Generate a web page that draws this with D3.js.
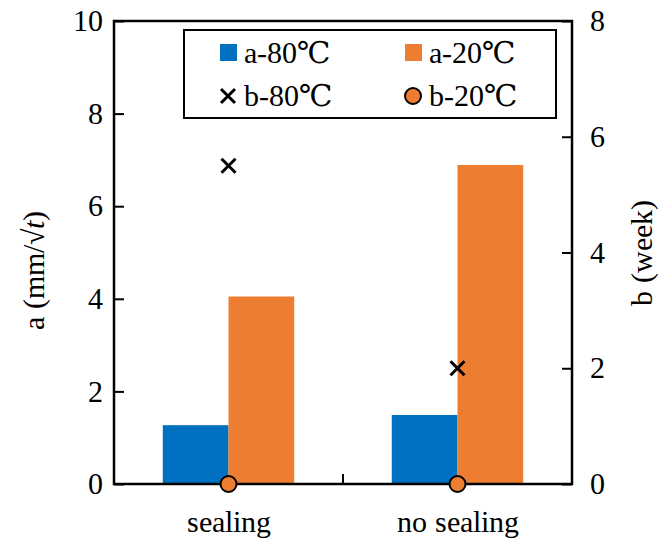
<!DOCTYPE html>
<html lang="en">
<head>
<meta charset="utf-8">
<script src="https://cdn.jsdelivr.net/npm/d3@7"></script>
<style>
  @font-face {
    font-family: "ChartSerif";
    font-style: normal;
    font-weight: 400;
    src: local("Liberation Serif"), local("LiberationSerif"), local("Liberation Serif Regular"), local("Times New Roman");
  }
  @font-face {
    font-family: "ChartSerif";
    font-style: italic;
    font-weight: 400;
    src: local("Liberation Serif Italic"), local("LiberationSerif-Italic"), local("Times New Roman Italic");
  }
  body { margin: 0; background: #fff; }
</style>
</head>
<body>
<svg id="chart" width="660" height="541"></svg>
<script>
// Categories and series
const categories = ["sealing", "no sealing"];
const a80 = [1.27, 1.49];   // a-80°C (left axis)
const a20 = [4.05, 6.89];   // a-20°C (left axis)
const b80 = [5.5, 2.0];     // b-80°C (right axis)
const b20 = [0, 0];         // b-20°C (right axis)
const leftTicks = [0, 2, 4, 6, 8, 10];
const rightTicks = [0, 2, 4, 6, 8];
const legendLabels = ["a-80\u2103", "a-20\u2103", "b-80\u2103", "b-20\u2103"];

const FONT = "ChartSerif, \"Liberation Serif\", \"Times New Roman\", \"DejaVu Serif\"";
const FS = "30px";
const blue = "#0070c0", orange = "#ed7d31";

function serif(sel) {
  return sel.style("font-family", FONT).style("font-size", FS);
}

function draw() {
  const svg = d3.select("#chart").style("font-family", FONT);
  svg.selectAll("*").remove();
  const m = { left: 114, right: 572, top: 21, bottom: 484 };

  const x = d3.scaleBand().domain(categories).range([m.left, m.right]);
  const yL = d3.scaleLinear().domain([0, 10]).range([m.bottom, m.top]);
  const yR = d3.scaleLinear().domain([0, 8]).range([m.bottom, m.top]);
  const barW = x.bandwidth() * 0.287;

  // Bars
  const g = svg.append("g");
  g.selectAll(".b80").data(categories).join("rect")
    .attr("x", d => x(d) + x.bandwidth() / 2 - barW)
    .attr("width", barW)
    .attr("y", (d, i) => yL(a80[i]))
    .attr("height", (d, i) => yL(0) - yL(a80[i]))
    .attr("fill", blue);
  g.selectAll(".b20").data(categories).join("rect")
    .attr("x", d => x(d) + x.bandwidth() / 2)
    .attr("width", barW)
    .attr("y", (d, i) => yL(a20[i]))
    .attr("height", (d, i) => yL(0) - yL(a20[i]))
    .attr("fill", orange);

  // Axes with inward ticks
  const axL = d3.axisLeft(yL).tickValues(leftTicks).tickSize(-10).tickPadding(11);
  const axR = d3.axisRight(yR).tickValues(rightTicks).tickSize(-10).tickPadding(18);
  const gL = svg.append("g").attr("transform", `translate(${m.left},0)`).call(axL);
  const gR = svg.append("g").attr("transform", `translate(${m.right},0)`).call(axR);
  [gL, gR].forEach(a => {
    a.attr("font-family", null).attr("font-size", null);
    a.select(".domain").remove();
    a.selectAll("line").attr("stroke", "#000").attr("stroke-width", 2);
    serif(a.selectAll("text")).attr("fill", "#000");
  });

  // Bottom axis: tick between categories, labels centred under each group
  svg.append("line")
    .attr("x1", x("no sealing")).attr("x2", x("no sealing"))
    .attr("y1", m.bottom).attr("y2", m.bottom - 10)
    .attr("stroke", "#000").attr("stroke-width", 2);
  serif(svg.selectAll(".cat").data(categories).join("text"))
    .attr("x", d => x(d) + x.bandwidth() / 2)
    .attr("y", 532)
    .attr("text-anchor", "middle")
    .text(d => d);

  // Plot border
  svg.append("rect")
    .attr("x", m.left).attr("y", m.top)
    .attr("width", m.right - m.left).attr("height", m.bottom - m.top)
    .attr("fill", "none").attr("stroke", "#000").attr("stroke-width", 2.5);

  // Markers on the right axis
  function cross(sel, cx, cy, s) {
    sel.append("path")
      .attr("d", `M${cx - s},${cy - s}L${cx + s},${cy + s}M${cx - s},${cy + s}L${cx + s},${cy - s}`)
      .attr("stroke", "#000").attr("stroke-width", 3).attr("fill", "none");
  }
  categories.forEach((c, i) => {
    cross(svg, x(c) + x.bandwidth() / 2, yR(b80[i]), 7);
  });
  svg.selectAll(".dot").data(categories).join("circle")
    .attr("cx", d => x(d) + x.bandwidth() / 2)
    .attr("cy", (d, i) => yR(b20[i]))
    .attr("r", 8)
    .attr("fill", orange).attr("stroke", "#000").attr("stroke-width", 2);

  // Axis titles
  const tL = serif(svg.append("text"))
    .attr("transform", `translate(44,${(m.top + m.bottom) / 2 + 18}) rotate(-90)`)
    .attr("text-anchor", "middle");
  tL.append("tspan").text("a (mm/\u221A");
  tL.append("tspan").style("font-style", "italic").text("t");
  tL.append("tspan").text(")");

  serif(svg.append("text"))
    .attr("transform", `translate(652,${(m.top + m.bottom) / 2}) rotate(-90)`)
    .attr("text-anchor", "middle")
    .text("b (week)");

  // Legend
  const lg = svg.append("g");
  lg.append("rect").attr("x", 184).attr("y", 30).attr("width", 372).attr("height", 88)
    .attr("fill", "#fff").attr("stroke", "#000").attr("stroke-width", 2);
  const legendItems = [
    { kind: "sq", color: blue, x: 220, y: 53 },
    { kind: "sq", color: orange, x: 405, y: 53 },
    { kind: "x", color: "#000", x: 220, y: 96 },
    { kind: "o", color: orange, x: 405, y: 96 }
  ];
  legendItems.forEach((it, i) => {
    if (it.kind === "sq") {
      lg.append("rect").attr("x", it.x).attr("y", it.y - 9).attr("width", 17).attr("height", 17).attr("fill", it.color);
    } else if (it.kind === "x") {
      cross(lg, it.x + 8, it.y, 7);
    } else {
      lg.append("circle").attr("cx", it.x + 8).attr("cy", it.y).attr("r", 8)
        .attr("fill", it.color).attr("stroke", "#000").attr("stroke-width", 2);
    }
    serif(lg.append("text")).attr("x", it.x + 24).attr("y", it.y + 10).text(legendLabels[i]);
  });
}

// Draw now, and again once the serif face has loaded
draw();
if (document.fonts && document.fonts.load) {
  Promise.all([
    document.fonts.load(`${FS} ChartSerif`, "sealing no a b week mm t 0123456789"),
    document.fonts.load(`italic ${FS} ChartSerif`, "t")
  ]).then(draw).catch(() => {});
}
</script>
</body>
</html>
